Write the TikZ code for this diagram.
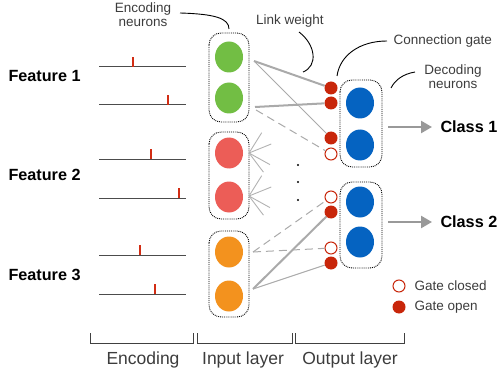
\documentclass[tikz,border=0pt]{standalone}
\usepackage{fontspec}
\setmainfont{Liberation Sans}
\usetikzlibrary{arrows.meta,shapes.geometric}
\definecolor{ngreen}{RGB}{114,190,68}
\definecolor{nred}{RGB}{236,93,87}
\definecolor{norange}{RGB}{243,146,30}
\definecolor{nblue}{RGB}{5,99,193}
\definecolor{gred}{RGB}{200,38,10}
\definecolor{spk}{RGB}{210,45,20}
\definecolor{conn}{RGB}{170,170,170}
\definecolor{txt}{RGB}{60,60,60}
\tikzset{
  neuron/.style={ellipse,minimum width=28pt,minimum height=31pt,inner sep=0pt},
  grp/.style={draw=black,densely dotted,line width=0.9pt,rounded corners=12pt},
  gateon/.style={circle,fill=gred,minimum size=13pt,inner sep=0pt},
  gateoff/.style={circle,draw=gred,fill=white,line width=1pt,minimum size=12pt,inner sep=0pt},
  axis/.style={draw=black!70,line width=1pt},
  spike/.style={draw=spk,line width=2pt},
  thickc/.style={draw=conn,line width=2pt},
  thinc/.style={draw=conn,line width=1pt},
  dashc/.style={draw=conn,line width=1pt,dash pattern=on 8pt off 5pt},
  fan/.style={draw=conn!90,line width=0.9pt},
  feat/.style={font=\fontsize{16.2}{19}\selectfont\bfseries,anchor=west},
  note/.style={font=\fontsize{13.5}{16}\selectfont,text=txt,align=center},
  layer/.style={font=\fontsize{17.5}{20}\selectfont,text=txt},
  pointer/.style={draw=black,line width=0.9pt},
  bracket/.style={draw=black!75,line width=1pt},
  classarrow/.style={draw=black!40,line width=2.5pt,shorten >=5pt,-{Triangle[length=11pt,width=12pt]}},
}
\begin{document}
\begin{tikzpicture}[x=1pt,y=-1pt]
\useasboundingbox (0,0) rectangle (497,374);

% feature labels
\node[feat] (f1) at (5,76) {Feature 1};
\node[feat] (f2) at (5,175) {Feature 2};
\node[feat] (f3) at (5,275) {Feature 3};

% encoding lines and spikes
\foreach \y/\s [count=\i] in {67/133,105/168,159/151,198/179,255/140,294/155}{
  \coordinate (la\i) at (99,\y);
  \coordinate (lb\i) at (186,\y);
  \draw[axis] (la\i) -- (lb\i);
  \coordinate (sa\i) at (\s,\y);
  \coordinate (sb\i) at (\s,\y-10);
  \draw[spike] (sa\i) -- (sb\i);
}

% groups
\draw[grp] (209,33) rectangle (249,122);
\draw[grp] (209,132) rectangle (249,219);
\draw[grp] (209,231) rectangle (249,317);
\draw[grp] (340,80) rectangle (382,167);
\draw[grp] (340,182) rectangle (382,268);

% input neurons
\node[neuron,fill=ngreen] (g1) at (229,57) {};
\node[neuron,fill=ngreen] (g2) at (229,98) {};
\node[neuron,fill=nred] (r1) at (229,153) {};
\node[neuron,fill=nred] (r2) at (229,197) {};
\node[neuron,fill=norange] (o1) at (229,252) {};
\node[neuron,fill=norange] (o2) at (229,296) {};

% output neurons
\node[neuron,fill=nblue] (b1) at (360,103) {};
\node[neuron,fill=nblue] (b2) at (360,145) {};
\node[neuron,fill=nblue] (b3) at (360,202) {};
\node[neuron,fill=nblue] (b4) at (360,242) {};

% gates
\node[gateon] (q1) at (331,88) {};
\node[gateon] (q2) at (331,103) {};
\node[gateon] (q3) at (331,138) {};
\node[gateoff] (q4) at (331,154) {};
\node[gateoff] (q5) at (331,197) {};
\node[gateon] (q6) at (331,212) {};
\node[gateoff] (q7) at (331,248) {};
\node[gateon] (q8) at (331,263) {};

% connection start points
\coordinate (g1o) at (254,61);
\coordinate (g2o) at (255,107);
\coordinate (g2d) at (256,110);
\coordinate (o1o) at (253,252);
\coordinate (o2o) at (253,289);

\draw[thickc] (g1o) -- (q1);
\draw[thinc] (g1o) -- (q3);
\draw[thickc] (q2) -- (g2o);
\draw[dashc] (g2d) -- (q4);
\draw[dashc] (o1o) -- (q5);
\draw[dashc] (o1o) -- (q7);
\draw[thickc] (o2o) -- (q6);
\draw[thinc] (o2o) -- (q8);

% fans from red neurons
\coordinate (r1c) at (249,153);
\coordinate (r2c) at (249,196);
\foreach \a in {-58,-22,29,53}{
  \draw[fan] (r1c) -- ++(\a:24);
  \draw[fan] (r2c) -- ++(\a:24);
}

% dots
\foreach \y/\n in {165/1,182/2,200/3}{
  \node[circle,fill=black,inner sep=0pt,minimum size=2.4pt] (dot\n) at (298,\y) {};
}

% classes
\node[feat] (c1) at (437,127) {Class 1};
\node[feat] (c2) at (437,222) {Class 2};
\coordinate (a1) at (388,127);
\coordinate (a2) at (388,222);
\draw[classarrow] (a1) -- (c1.west);
\draw[classarrow] (a2) -- (c2.west);

% annotations
\node[note] (encn) at (143,15) {Encoding\\[-2pt]neurons};
\node[note] (lw) at (290,21) {Link weight};
\node[note,anchor=west] (cg) at (390,41) {Connection gate};
\node[note] (dn) at (453,77) {Decoding\\[-2pt]neurons};
\coordinate (p1a) at (180,13);
\coordinate (p1b) at (229,29);
\coordinate (p2a) at (299,32);
\coordinate (p2b) at (303,72);
\coordinate (p3a) at (387,41);
\coordinate (p3b) at (337,76);
\coordinate (p4a) at (415,72);
\coordinate (p4b) at (391,88);
\draw[pointer] (p1a) .. controls (214,14) and (229,18) .. (p1b);
\draw[pointer] (p2a) .. controls (316,45) and (318,66) .. (p2b);
\draw[pointer] (p3a) .. controls (360,41) and (340,55) .. (p3b);
\draw[pointer] (p4a) .. controls (403,74) and (395,80) .. (p4b);

% legend
\node[gateoff] (lg1) at (399,286) {};
\node[gateon] (lg2) at (399,307) {};
\node[note,anchor=west] (lt1) at (411,286) {Gate closed};
\node[note,anchor=west] (lt2) at (411,307) {Gate open};

% brackets
\draw[bracket] (90,333) -- (90,343) -- (193,343) -- (193,333);
\draw[bracket] (197,333) -- (197,343) -- (292,343) -- (292,333);
\draw[bracket] (295,333) -- (295,343) -- (404,343) -- (404,333);
\node[layer] (l1) at (143,360) {Encoding};
\node[layer] (l2) at (243,360) {Input layer};
\node[layer] (l3) at (350,360) {Output layer};
\end{tikzpicture}
\end{document}
